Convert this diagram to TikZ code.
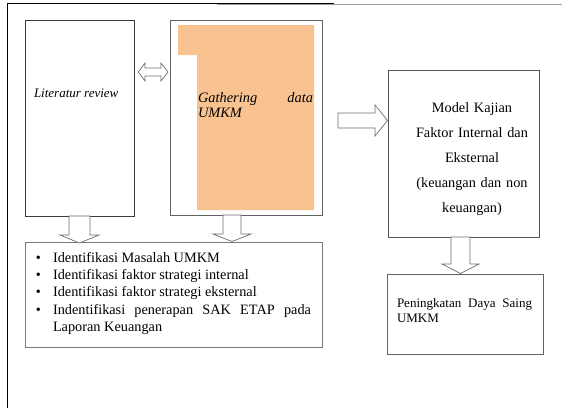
\documentclass[tikz,border=0pt]{standalone}
\usepackage{fontspec}
\setmainfont{Liberation Serif}
\usepackage{enumitem}
\definecolor{peach}{HTML}{F8C291}
\definecolor{edgedark}{HTML}{3A3A3A}
\definecolor{edgegray}{HTML}{7A7A7A}
\tikzset{
  box/.style={draw=edgedark, line width=0.8pt, fill=white, inner sep=0pt, anchor=north west},
  graybox/.style={box, draw=edgegray, line width=1pt},
  blk/.style={draw=edgegray!90!black, line width=0.7pt, fill=white, line join=miter},
  txt/.style={inner sep=0pt, outer sep=0pt},
}
% down block arrow: xc, ystart, yheadbase, ytip, shaft half, head half
\newcommand\myDownBlock[6]{%
  \draw[blk] (#1-#5,#2) -- (#1+#5,#2) -- (#1+#5,#3) -- (#1+#6,#3) -- (#1,#4)
    -- (#1-#6,#3) -- (#1-#5,#3) -- cycle;}
\begin{document}
\begin{tikzpicture}[x=1pt,y=-1pt]
\useasboundingbox (0,0) rectangle (562,408);
% outer frame lines
\draw[line width=1.1pt, black] (7.3,408) -- (7.3,3.3) -- (334,3.3);
\draw[line width=0.8pt, gray!75] (217,4.8) -- (562,4.8);

% boxes
\node[box, minimum width=109pt, minimum height=196pt] (lit) at (25,20) {};
\node[box, draw=edgegray!80!black, minimum width=152pt, minimum height=195pt] (gath) at (170,20) {};
\fill[peach] (178,25) -- (314,25) -- (314,210) -- (197,210) -- (197,55) -- (178,55) -- cycle;
\node[graybox, minimum width=297pt, minimum height=105pt] (ident) at (25,242) {};
\node[box, draw=edgegray!70!black, minimum width=151pt, minimum height=167pt] (model) at (388,70) {};
\node[box, draw=edgegray!80!black, minimum width=156pt, minimum height=80pt] (daya) at (387,274) {};

% texts
\node[txt, anchor=base west, font=\fontsize{13}{15}\selectfont\itshape] (littxt) at (34,97) {Literatur review};
\node[txt, anchor=base west, text width=115pt, align=justify, font=\fontsize{14.4}{15}\selectfont\itshape] (gathtxt) at (198,102)
  {Gathering data\linebreak UMKM};
\node[txt, anchor=base west, text width=273pt, align=justify, font=\fontsize{14.3}{17.3}\selectfont] (identtxt) at (38,245)
  {\begin{itemize}[leftmargin=15pt,labelsep=12pt,labelwidth=3pt,itemsep=0pt,parsep=0pt,topsep=0pt,partopsep=0pt,label=\textbullet]
   \item Identifikasi Masalah UMKM
   \item Identifikasi faktor strategi internal
   \item Identifikasi faktor strategi eksternal
   \item Indentifikasi penerapan SAK ETAP pada\linebreak Laporan Keuangan
   \end{itemize}};
\node[txt, anchor=base, text width=140pt, align=center, font=\fontsize{14.3}{25}\selectfont] (modeltxt) at (472,112)
  {Model Kajian\\ Faktor Internal dan\\ Eksternal\\ (keuangan dan non\\ keuangan)};
\node[txt, anchor=base west, text width=135pt, align=justify, font=\fontsize{13}{15}\selectfont] (dayatxt) at (397,307)
  {Peningkatan Daya Saing\linebreak UMKM};

% double arrow between lit and gath
\draw[blk] (138.3,72) -- (145,63) -- (145,68) -- (161,68) -- (161,63) -- (168,72)
  -- (161,81) -- (161,76) -- (145,76) -- (145,81) -- cycle;
% right arrow to model
\draw[blk] (338,113) -- (375,113) -- (375,105) -- (387.5,120.5) -- (375,136) -- (375,128) -- (338,128) -- cycle;
% down arrows
\myDownBlock{79.5}{216}{235}{243}{10.5}{19.5}
\myDownBlock{232}{215}{234}{241.5}{9}{19}
\myDownBlock{460.5}{237}{264}{273.5}{9.5}{18.5}
\end{tikzpicture}
\end{document}
